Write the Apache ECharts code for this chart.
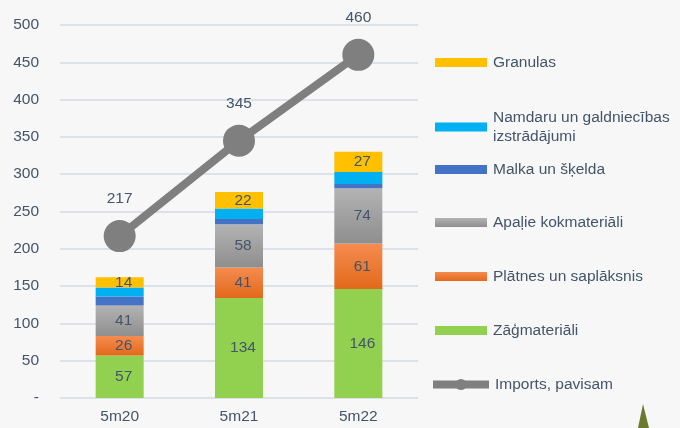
<!DOCTYPE html>
<html>
<head>
<meta charset="utf-8">
<script src="https://cdn.jsdelivr.net/npm/echarts@6/dist/echarts.min.js"></script>
<style>html,body{margin:0;padding:0;background:#f7f7f8;}#c{width:680px;height:428px;}</style>
</head>
<body>
<div id="c"></div>
<script>
const categories = ['5m20', '5m21', '5m22'];
const zagmateriali = [57, 134, 146];
const platnes = [26, 41, 61];
const apalie = [41, 58, 74];
const malka = [12, 7, 6];
const namdaru = [12, 14, 16];
const granulas = [14, 22, 27];
const imports = [217, 345, 460];
const yTicks = [0, 50, 100, 150, 200, 250, 300, 350, 400, 450, 500];

const txt = '#44546a';
const font = 'Liberation Sans, Arial, sans-serif';

function barSeries(name, data, color, showLabel) {
  return {
    name: name, type: 'bar', stack: 'a', data: data, barWidth: 48,
    itemStyle: { color: color },
    label: { show: showLabel, position: 'inside', color: txt, fontSize: 15.5, fontFamily: font, offset: [4, 0] },
    emphasis: { disabled: true }
  };
}
const grayGrad = new echarts.graphic.LinearGradient(0, 0, 0, 1, [{offset: 0, color: '#b3b3b3'}, {offset: 1, color: '#8e8e8e'}]);
const orangeGrad = new echarts.graphic.LinearGradient(0, 0, 0, 1, [{offset: 0, color: '#f58c50'}, {offset: 1, color: '#e2691a'}]);

const legendItems = [
  { name: 'Granulas', top: 53 },
  { name: 'Namdaru un galdniecības\nizstrādājumi', top: 108 },
  { name: 'Malka un šķelda', top: 160 },
  { name: 'Apaļie kokmateriāli', top: 213 },
  { name: 'Plātnes un saplāksnis', top: 267 },
  { name: 'Zāģmateriāli', top: 321 },
  { name: 'Imports, pavisam', top: 375 }
];

const chart = echarts.init(document.getElementById('c'));
chart.setOption({
  backgroundColor: '#f7f7f8',
  animation: false,
  grid: { left: 60, right: 262, top: 25, bottom: 30 },
  xAxis: {
    type: 'category', data: categories,
    axisLine: { show: false }, axisTick: { show: false },
    axisLabel: { color: txt, fontSize: 15.5, fontFamily: font, margin: 11 }
  },
  yAxis: {
    type: 'value', min: 0, max: 500, interval: 50,
    axisLine: { show: false }, axisTick: { show: false },
    splitLine: { lineStyle: { color: '#dde2ea', width: 2 } },
    axisLabel: { color: txt, fontSize: 15.5, fontFamily: font, margin: 21,
      formatter: v => (v === 0 ? '-' : String(v)) }
  },
  legend: legendItems.map((it, i) => ({
    data: [it.name], orient: 'vertical', left: i === 6 ? 429 : 435, top: it.top, padding: 0,
    itemWidth: i === 6 ? 56 : 52, itemHeight: i === 6 ? 14 : 9, itemGap: 0,
    icon: i === 6 ? undefined : 'rect',
    lineStyle: i === 6 ? { width: 8, color: '#7f7f7f' } : undefined,
    textStyle: { color: txt, fontSize: 15.5, fontFamily: font, lineHeight: 19, padding: [0, 0, 0, 1] },
    selectedMode: false
  })),
  series: [
    barSeries('Zāģmateriāli', zagmateriali, '#92d050', true),
    barSeries('Plātnes un saplāksnis', platnes, orangeGrad, true),
    barSeries('Apaļie kokmateriāli', apalie, grayGrad, true),
    barSeries('Malka un šķelda', malka, '#4472c4', false),
    barSeries('Namdaru un galdniecības\nizstrādājumi', namdaru, '#00b0f0', false),
    barSeries('Granulas', granulas, '#ffc000', true),
    {
      name: 'Imports, pavisam', type: 'line', data: imports, z: 5,
      symbol: 'circle', symbolSize: 32,
      lineStyle: { color: '#7f7f7f', width: 8 },
      itemStyle: { color: '#7f7f7f' },
      label: { show: true, position: 'top', distance: 13, color: txt, fontSize: 15.5, fontFamily: font },
      emphasis: { disabled: true }
    }
  ],
  graphic: [{
    type: 'polygon', silent: true,
    shape: { points: [[643, 404], [638, 428], [649, 428]] },
    style: { fill: '#6b7a2c' }
  }]
});
</script>
</body>
</html>
